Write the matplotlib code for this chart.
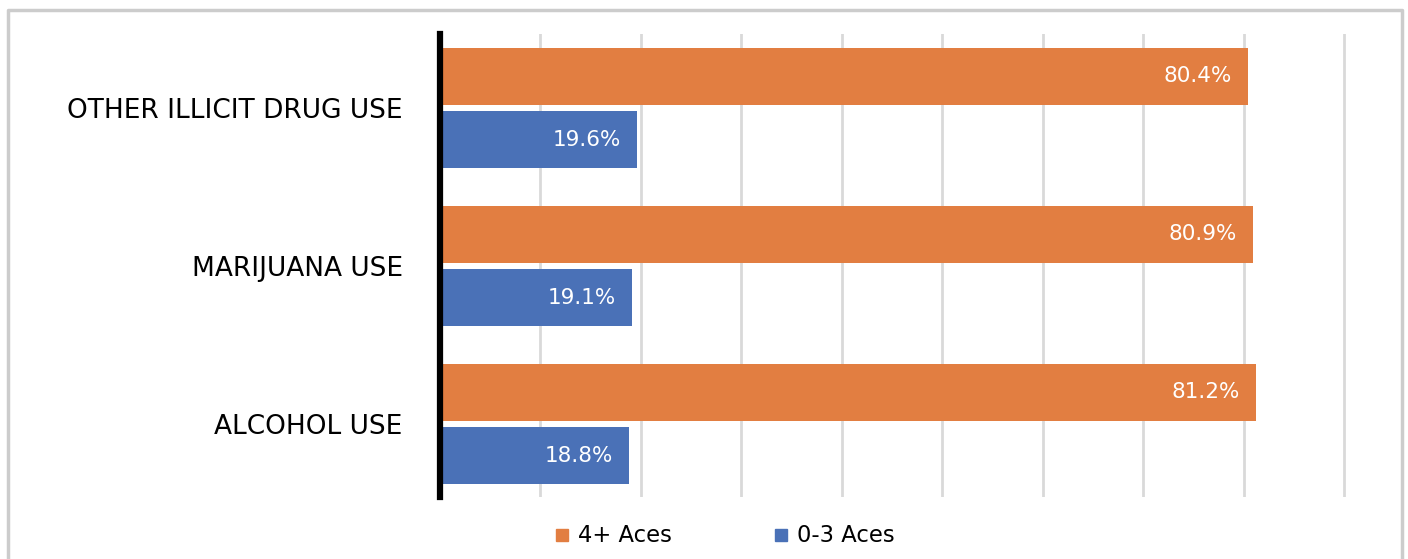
import matplotlib
matplotlib.use("Agg")
import matplotlib.pyplot as plt
from matplotlib.lines import Line2D
import numpy as np

categories = ["ALCOHOL USE", "MARIJUANA USE", "OTHER ILLICIT DRUG USE"]
aces_4plus = [81.2, 80.9, 80.4]
aces_0to3 = [18.8, 19.1, 19.6]
series_names = ["4+ Aces", "0-3 Aces"]
colors = ["#E27E41", "#4A71B7"]

plt.rcParams['font.family'] = ['DejaVu Sans']

W, H = 1408, 559
fig = plt.figure(figsize=(W / 100, H / 100), dpi=100)
ax = fig.add_axes([440 / W, (H - 497) / H, (1348 - 440) / W, (497 - 34) / H])

y = np.arange(len(categories))
off = 0.2
h = 0.36
b1 = ax.barh(y + off, aces_4plus, height=h, color=colors[0], zorder=3)
b2 = ax.barh(y - off, aces_0to3, height=h, color=colors[1], zorder=3)

for bars, vals in ((b1, aces_4plus), (b2, aces_0to3)):
    for bar, v in zip(bars, vals):
        ax.text(v - 1.6, bar.get_y() + bar.get_height() / 2, f"{v:.1f}%",
                ha="right", va="center", color="white", fontsize=15.5, zorder=4)

ax.set_xlim(0, 90 + 4 * 90 / 904)
ax.set_ylim(-0.462, 2.468)
ax.set_xticks(np.arange(10, 91, 10))
ax.xaxis.grid(True, color="#D9D9D9", linewidth=2, zorder=0)
ax.tick_params(axis="x", length=0, labelbottom=False)
ax.tick_params(axis="y", length=0, pad=27)
ax.set_yticks(y)
ax.set_yticklabels(categories, fontsize=19, color="black")
for s in ("top", "right", "bottom"):
    ax.spines[s].set_visible(False)
ax.spines["left"].set_linewidth(4.5)
ax.spines["left"].set_color("black")
ax.spines["left"].set_zorder(5)

handles = [Line2D([], [], marker="s", linestyle="none", markersize=8.6,
                  markerfacecolor=c, markeredgecolor=c) for c in colors]
fig.legend(handles, series_names, loc="center", bbox_to_anchor=(724 / W, (H - 536) / H),
           ncol=2, frameon=False, fontsize=16.3, handletextpad=0.31, columnspacing=4.4,
           handlelength=0.8)

# outer border (top, left, right)
bx = [8 / W, 8 / W, 1402 / W, 1402 / W]
by = [0, (H - 10) / H, (H - 10) / H, 0]
fig.add_artist(Line2D(bx, by, transform=fig.transFigure, color="#CCCCCC", linewidth=2.5))

fig.savefig("out.png", dpi=100)
